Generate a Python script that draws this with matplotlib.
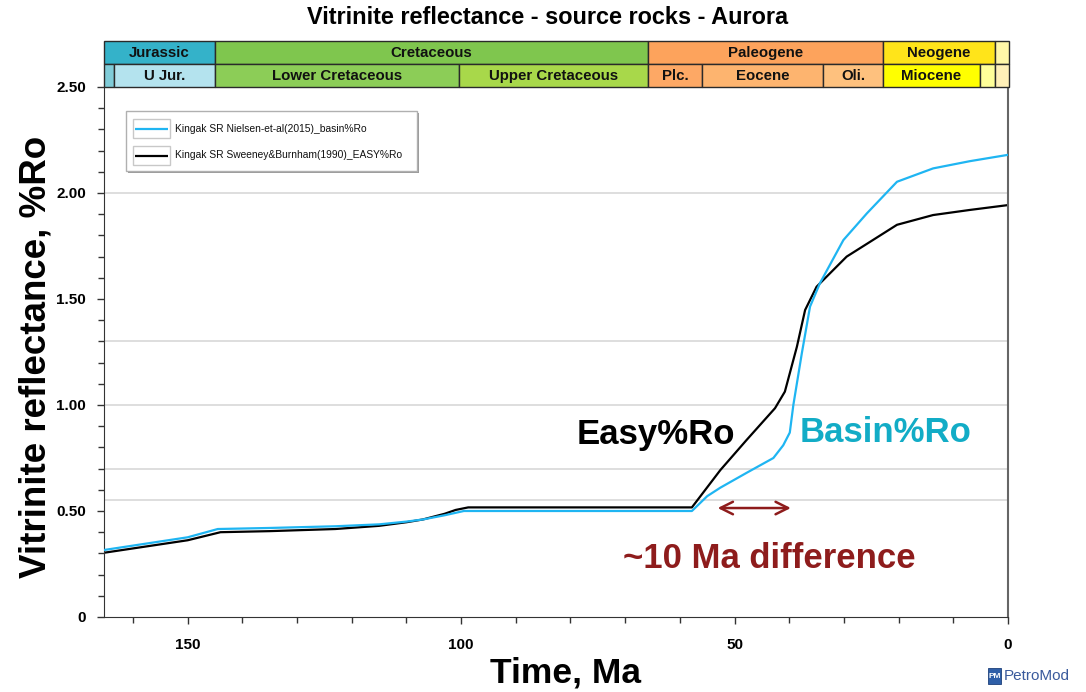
import matplotlib
matplotlib.use("Agg")
import matplotlib.pyplot as plt
from matplotlib.patches import Rectangle, FancyBboxPatch
from matplotlib.ticker import MultipleLocator, FuncFormatter

# ---- data -------------------------------------------------------------
basin_age = [165.3, 150.0, 144.5, 135.0, 123.0, 115.0, 110.0, 107.0, 103.0, 99.5,
             57.8, 55.0, 52.6, 47.8, 42.9, 41.1, 39.9, 39.25, 37.7, 36.2, 34.4,
             30.1, 25.8, 20.3, 13.7, 7.0, 0.0]
basin_ro = [0.316, 0.376, 0.415, 0.420, 0.428, 0.437, 0.450, 0.460, 0.480, 0.500,
            0.500, 0.570, 0.610, 0.680, 0.750, 0.810, 0.870, 1.000, 1.244, 1.464, 1.574,
            1.778, 1.904, 2.053, 2.116, 2.150, 2.180]

easy_age = [165.3, 150.0, 144.0, 135.0, 123.0, 115.0, 110.0, 107.0, 103.0, 101.0, 98.7,
            57.8, 52.6, 47.8, 42.6, 40.8, 38.6, 37.1, 35.0, 29.5, 25.2, 20.3,
            13.7, 7.0, 0.0]
easy_ro = [0.303, 0.362, 0.400, 0.405, 0.415, 0.430, 0.447, 0.460, 0.487, 0.505, 0.517,
           0.517, 0.693, 0.835, 0.985, 1.063, 1.275, 1.448, 1.558, 1.700, 1.770, 1.850,
           1.896, 1.920, 1.943]

series_labels = ["Kingak SR Nielsen-et-al(2015)_basin%Ro",
                 "Kingak SR Sweeney&Burnham(1990)_EASY%Ro"]
series_colors = ["#1FB5F2", "black"]

maturity_levels = [0.55, 0.70, 1.00, 1.30, 2.00]

x_min_age = 165.3

# geologic time scale (Ma)
period_names = ["Jurassic", "Cretaceous", "Paleogene", "Neogene", ""]
period_start = [201.3, 145.0, 66.0, 23.0, 2.58]
period_end = [145.0, 66.0, 23.0, 2.58, 0.0]
period_colors = ["#34B2C9", "#7FC64E", "#FDA35C", "#FFE41A", "#FFF7A8"]

epoch_names = ["", "U Jur.", "Lower Cretaceous", "Upper Cretaceous", "Plc.", "Eocene",
               "Oli.", "Miocene", "", ""]
epoch_start = [174.1, 163.5, 145.0, 100.5, 66.0, 56.0, 33.9, 23.0, 5.33, 2.58]
epoch_end = [163.5, 145.0, 100.5, 66.0, 56.0, 33.9, 23.0, 5.33, 2.58, 0.0]
epoch_colors = ["#80CCD8", "#B4E3EE", "#8CCD57", "#A8D84A", "#FDA865", "#FDB46F",
                "#FEC17E", "#FFFF00", "#FFFF99", "#FFF0B8"]

# ---- figure -----------------------------------------------------------
W, H = 1086, 692
fig = plt.figure(figsize=(W / 100, H / 100), dpi=100)
fig.patch.set_facecolor("white")

ax_l, ax_r, ax_t, ax_b = 104, 1008, 87, 617
ax = fig.add_axes([ax_l / W, 1 - ax_b / H, (ax_r - ax_l) / W, (ax_b - ax_t) / H])

sans = ["Liberation Sans", "DejaVu Sans"]

def px_axes(px, py):
    """Pixel position of the canvas -> axes fraction."""
    return (px - ax_l) / (ax_r - ax_l), (ax_b - py) / (ax_b - ax_t)

for lvl in maturity_levels:
    ax.axhline(lvl, color="#D4D4D4", lw=1.1, zorder=1)

ax.plot(basin_age, basin_ro, color=series_colors[0], lw=1.6, zorder=3)
ax.plot(easy_age, easy_ro, color=series_colors[1], lw=1.6, zorder=2)

ax.set_xlim(x_min_age, 0)
ax.set_ylim(0, 2.5)
ax.xaxis.set_major_locator(MultipleLocator(50))
ax.xaxis.set_minor_locator(MultipleLocator(10))
ax.yaxis.set_major_locator(MultipleLocator(0.5))
ax.yaxis.set_minor_locator(MultipleLocator(0.1))
ax.yaxis.set_major_formatter(FuncFormatter(lambda v, p: "0" if abs(v) < 1e-9 else f"{v:.2f}"))
ax.xaxis.set_major_formatter(FuncFormatter(lambda v, p: f"{v:.0f}"))
ax.tick_params(axis="both", which="major", direction="out", length=5, width=1, color="#333333")
ax.tick_params(axis="both", which="minor", direction="out", length=4, width=1, color="#333333")
ax.tick_params(axis="x", which="major", pad=10)
ax.tick_params(axis="y", which="major", pad=8)
for lab in ax.get_xticklabels() + ax.get_yticklabels():
    lab.set_fontfamily(["Liberation Sans Narrow"] + sans)
    lab.set_fontweight("bold")
    lab.set_fontsize(11)

ax.spines["top"].set_visible(False)
ax.spines["right"].set_color("#666666")
ax.spines["right"].set_linewidth(1.5)
ax.spines["left"].set_color("#333333")
ax.spines["bottom"].set_color("#333333")

# ---- legend box ---------------------------------------------------------
lx0, ly0 = px_axes(126, 171)
lx1, ly1 = px_axes(417, 111)
sx, sy = 2 / (ax_r - ax_l), 2 / (ax_b - ax_t)
ax.add_patch(Rectangle((lx0 + sx, ly0 - sy), lx1 - lx0, ly1 - ly0, transform=ax.transAxes,
                       facecolor="#9A9A9A", edgecolor="none", zorder=4))
ax.add_patch(Rectangle((lx0, ly0), lx1 - lx0, ly1 - ly0, transform=ax.transAxes,
                       facecolor="white", edgecolor="#B0B0B0", lw=1.0, zorder=5))
for i, (lab, col) in enumerate(zip(series_labels, series_colors)):
    yc = 128.5 + 27 * i
    bx0, by0 = px_axes(133, yc + 9.5)
    bx1, by1 = px_axes(170, yc - 9.5)
    ax.add_patch(Rectangle((bx0, by0), bx1 - bx0, by1 - by0, transform=ax.transAxes,
                           facecolor="white", edgecolor="#C8C8C8", lw=1.0, zorder=6))
    hx0, hy = px_axes(135, yc)
    hx1, _ = px_axes(168, yc)
    ax.plot([hx0, hx1], [hy, hy], transform=ax.transAxes, color=col, lw=1.6, zorder=7,
            solid_capstyle="butt")
    tx, ty = px_axes(175, yc)
    ax.text(tx, ty, lab, transform=ax.transAxes, ha="left", va="center", fontsize=7.4,
            family=sans, color="#111111", zorder=7)

# ---- annotations --------------------------------------------------------
ax.text(64.4, 0.862, "Easy%Ro", ha="center", va="center", fontsize=25,
        fontweight="bold", family=sans, color="black")
ax.text(22.3, 0.872, "Basin%Ro", ha="center", va="center", fontsize=25,
        fontweight="bold", family=sans, color="#12ACC6")
ax.annotate("", xy=(53.6, 0.514), xytext=(39.2, 0.514),
            arrowprops=dict(arrowstyle="<->,head_length=0.9,head_width=0.45",
                            color="#8E1C1C", lw=1.8))
ax.text(43.7, 0.278, "~10 Ma difference", ha="center", va="center", fontsize=25,
        fontweight="bold", family=sans, color="#8E1C1C")

# ---- stratigraphic band -----------------------------------------------
band_top, band_bot = 41, 87
axs = fig.add_axes([ax_l / W, 1 - band_bot / H, (ax_r - ax_l + 1) / W, (band_bot - band_top) / H])
axs.set_xlim(x_min_age, 0)
axs.set_ylim(0, 2)
axs.axis("off")

def draw_row(names, starts, ends, colors, y0):
    for name, s, e, c in zip(names, starts, ends, colors):
        s_vis = min(s, x_min_age)
        axs.add_patch(Rectangle((e, y0), s_vis - e, 1, facecolor=c, edgecolor="#2A2A2A",
                                lw=1.0, clip_on=False))
        if name:
            axs.text((s_vis + e) / 2, y0 + 0.47, name, ha="center", va="center",
                     fontsize=10.8, fontweight="bold", family=sans, color="#111111")

draw_row(period_names, period_start, period_end, period_colors, 1)
draw_row(epoch_names, epoch_start, epoch_end, epoch_colors, 0)

# ---- titles and axis labels ---------------------------------------------
fig.text(548 / W, 1 - 17 / H, "Vitrinite reflectance - source rocks - Aurora",
         ha="center", va="center", fontsize=16.9, fontweight="bold",
         family=["Liberation Sans Narrow"] + sans)
fig.text(566 / W, 1 - 673 / H, "Time, Ma", ha="center", va="center", fontsize=25.5,
         fontweight="bold", family=sans)
fig.text(36 / W, 1 - 357 / H, "Vitrinite reflectance, %Ro", ha="center", va="center",
         rotation=90, fontsize=26.5, fontweight="bold", family=sans)

# PetroMod mark
fig.patches.append(FancyBboxPatch((988 / W, 1 - 684 / H), 13 / W, 16 / H,
                                  boxstyle="square,pad=0", transform=fig.transFigure,
                                  facecolor="#2F5FA8", edgecolor="#1D3F7A", lw=0.6))
fig.text(994.5 / W, 1 - 676 / H, "PM", ha="center", va="center", fontsize=6,
         fontweight="bold", color="white", family=["Liberation Sans Narrow"] + sans)
fig.text(1004 / W, 1 - 676 / H, "PetroMod", ha="left", va="center", fontsize=11,
         color="#3A5A9C", family=sans)

fig.savefig("out.png", dpi=100)
